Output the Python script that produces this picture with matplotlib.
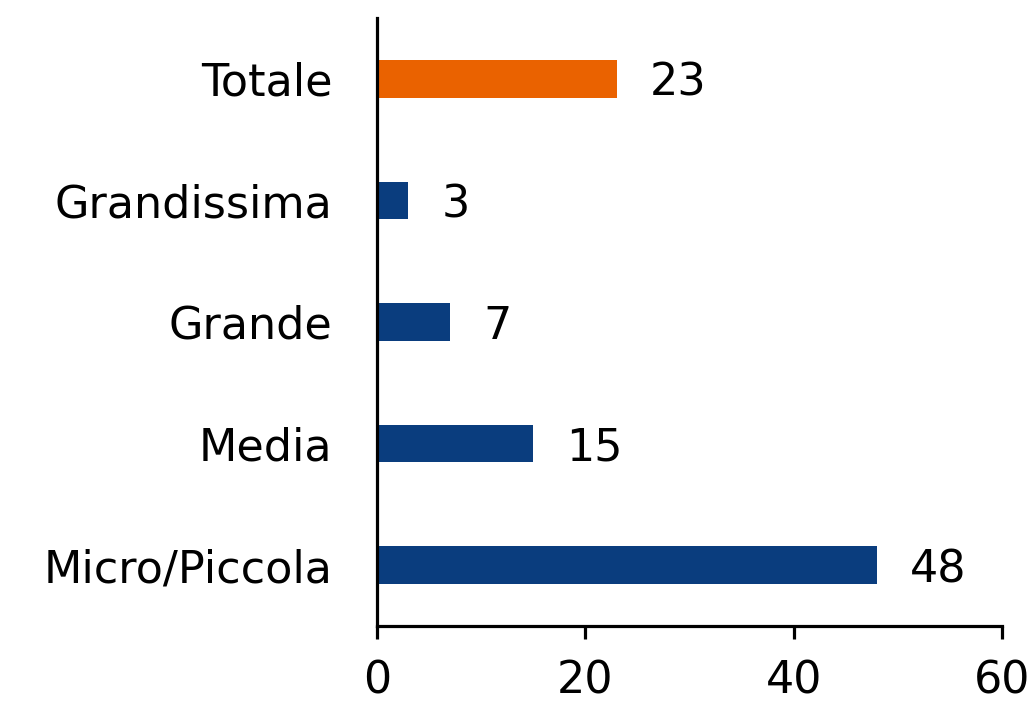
import matplotlib.pyplot as plt

# share by company size class
categories = ["Micro/Piccola", "Media", "Grande", "Grandissima", "Totale"]
values = [48, 15, 7, 3, 23]
colors = ["#0a3d7e", "#0a3d7e", "#0a3d7e", "#0a3d7e", "#ea6200"]

plt.rcParams['font.family'] = ['DejaVu Sans']

fig = plt.figure(figsize=(10.31, 7.04), dpi=100)
ax = fig.add_axes([0.3657, 0.111, 0.6062, 0.8634])

ypos = range(len(categories))
ax.barh(ypos, values, height=0.31, color=colors)

for y, v in zip(ypos, values):
    ax.text(v + 3.2, y, str(v), va='center_baseline', ha='left', fontsize=32)

ax.set_xlim(0, 60)
ax.set_ylim(-0.5, 4.5)
ax.set_xticks([0, 20, 40, 60])
ax.set_yticks(list(ypos))
ax.set_yticklabels(categories)

for s in ['top', 'right']:
    ax.spines[s].set_visible(False)
for s in ['left', 'bottom']:
    ax.spines[s].set_linewidth(2.3)

ax.tick_params(axis='x', length=9, width=2.3, labelsize=32, pad=15)
ax.tick_params(axis='y', length=0, labelsize=32, pad=32)
for lbl in ax.get_yticklabels():
    lbl.set_verticalalignment('center_baseline')

fig.savefig("out.png", dpi=100)
